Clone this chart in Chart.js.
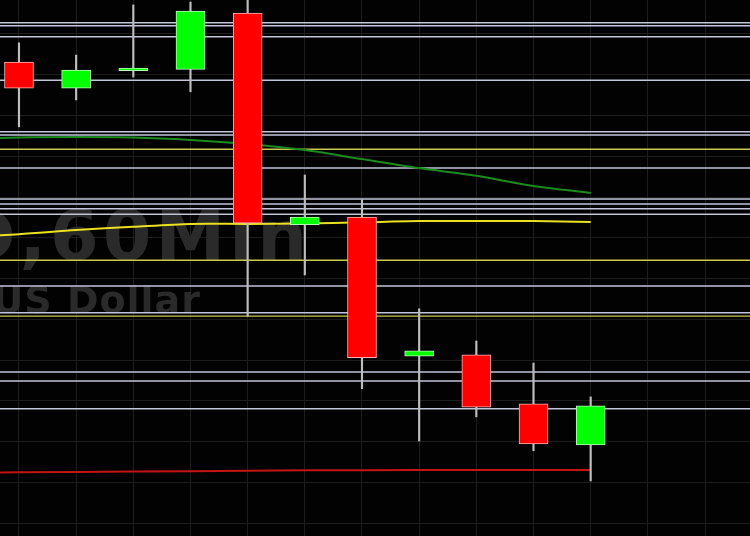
<!DOCTYPE html>
<html>
<head>
<meta charset="utf-8">
<style>
  html, body { margin: 0; padding: 0; background: #020202; }
  canvas { display: block; }
</style>
</head>
<body>
<canvas id="candles" width="750" height="536"></canvas>
<script src="https://cdn.jsdelivr.net/npm/chart.js"></script>
<script>
// hourly bars, index 0..10
const bars   = [0, 1, 2, 3, 4, 5, 6, 7, 8, 9, 10];
const opens  = [1.17931, 1.17867, 1.17910, 1.17913, 1.18051, 1.17532, 1.17551, 1.17210, 1.17213, 1.17093, 1.16992];
const highs  = [1.17978, 1.17948, 1.18071, 1.18078, 1.18110, 1.17654, 1.17593, 1.17326, 1.17247, 1.17193, 1.17110];
const lows   = [1.17772, 1.17838, 1.17894, 1.17858, 1.17308, 1.17409, 1.17130, 1.17002, 1.17061, 1.16978, 1.16904];
const closes = [1.17867, 1.17911, 1.17916, 1.18056, 1.17536, 1.17551, 1.17206, 1.17223, 1.17085, 1.16995, 1.17088];

// moving averages, bar -1..10
const maBars   = [-1, 0, 1, 2, 3, 4, 5, 6, 7, 8, 9, 10];
const maSlow   = [1.17742, 1.17746, 1.17747, 1.17746, 1.17740, 1.17730, 1.17715, 1.17693, 1.17671, 1.17652, 1.17627, 1.17610];
const maFast   = [1.17502, 1.17509, 1.17519, 1.17527, 1.17534, 1.17534, 1.17535, 1.17538, 1.17541, 1.17541, 1.17541, 1.17539];
const maLow    = [1.16924, 1.16925, 1.16926, 1.16927, 1.16928, 1.16929, 1.16930, 1.16930, 1.16931, 1.16931, 1.16931, 1.16931];

// horizontal levels
const levels       = [1.18027, 1.18020, 1.17993, 1.17886, 1.17760, 1.17752, 1.17671, 1.17595, 1.17583, 1.17571, 1.17558, 1.17382, 1.17316, 1.17171, 1.17149, 1.17081];
const yellowLevels = [1.17717, 1.17445, 1.17308];

const priceTicks = [1.1800, 1.1790, 1.1780, 1.1770, 1.1760, 1.1750, 1.1740, 1.1730, 1.1720, 1.1710, 1.1700, 1.1690, 1.1680];
const barTicks   = [0, 1, 2, 3, 4, 5, 6, 7, 8, 9, 10, 11, 12];

const up = bars.map(i => closes[i] >= opens[i]);

const levelSets = levels.map(v => ({
  type: 'line', data: [{x: -1, y: v}, {x: 14, y: v}],
  borderColor: '#c2c5d8', borderWidth: 1.5, pointRadius: 0, order: 5
}));
const yellowSets = yellowLevels.map(v => ({
  type: 'line', data: [{x: -1, y: v}, {x: 14, y: v}],
  borderColor: '#c9c94e', borderWidth: 1.4, pointRadius: 0, order: 5
}));

const watermark = {
  id: 'watermark',
  beforeDatasetsDraw(chart) {
    const c = chart.ctx;
    c.save();
    c.fillStyle = '#2a2a2a';
    c.textAlign = 'right';
    c.font = 'bold 70px "DejaVu Sans"';
    c.letterSpacing = '4px';
    c.fillText('EURUSD,60Min', 311, 260);
    c.font = 'bold 38px "DejaVu Sans"';
    c.letterSpacing = '1px';
    c.fillText('Euro vs US Dollar', 201, 313);
    c.restore();
  }
};

new Chart(document.getElementById('candles'), {
  type: 'bar',
  data: {
    datasets: [
      ...levelSets,
      ...yellowSets,
      {
        type: 'line', data: maBars.map((b, i) => ({x: b, y: maSlow[i]})),
        borderColor: '#1c8a1c', borderWidth: 2, pointRadius: 0, tension: 0.3, order: 4
      },
      {
        type: 'line', data: maBars.map((b, i) => ({x: b, y: maFast[i]})),
        borderColor: '#e8e020', borderWidth: 2, pointRadius: 0, tension: 0.3, order: 4
      },
      {
        type: 'line', data: maBars.map((b, i) => ({x: b, y: maLow[i]})),
        borderColor: '#c41414', borderWidth: 2, pointRadius: 0, order: 4
      },
      {
        label: 'wick', data: bars.map(i => ({x: i, y: [lows[i], highs[i]]})),
        backgroundColor: '#bdbdbd', borderWidth: 0, barThickness: 1.5,
        grouped: false, order: 2
      },
      {
        label: 'body', data: bars.map(i => ({x: i, y: [opens[i], closes[i]]})),
        backgroundColor: up.map(u => u ? '#00ff00' : '#ff0000'),
        borderColor: up.map(u => u ? '#b8ffb8' : '#ffb4b4'),
        borderWidth: 1, borderSkipped: false, barThickness: 29,
        grouped: false, order: 1
      }
    ]
  },
  options: {
    responsive: false,
    animation: false,
    layout: { padding: 0 },
    plugins: { legend: { display: false }, tooltip: { enabled: false } },
    scales: {
      x: {
        type: 'linear', min: -0.332, max: 12.787, offset: false,
        afterBuildTicks: s => { s.ticks = barTicks.map(v => ({value: v})); },
        ticks: { display: false },
        grid: { color: '#1d1d1d', drawTicks: false, offset: false },
        border: { display: false }
      },
      y: {
        min: 1.16769, max: 1.18083,
        afterBuildTicks: s => { s.ticks = priceTicks.map(v => ({value: v})); },
        ticks: { display: false },
        grid: { color: '#1d1d1d', drawTicks: false },
        border: { display: false }
      }
    }
  },
  plugins: [watermark]
});
</script>
</body>
</html>
